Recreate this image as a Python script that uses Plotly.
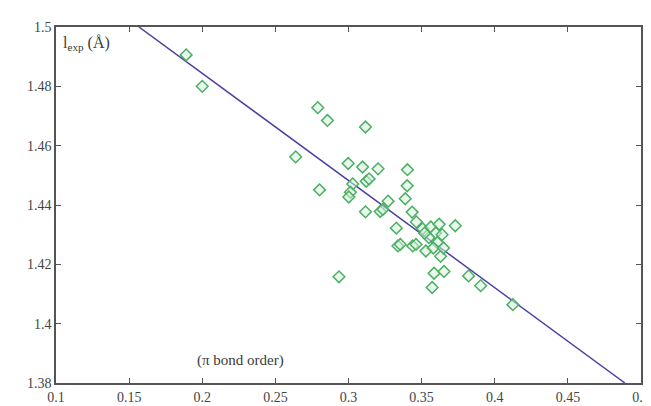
import plotly.graph_objects as go

# pi bond order (x) and experimental bond length l_exp in Angstrom (y)
bond_order = [0.189, 0.200, 0.279, 0.2856, 0.3116, 0.2639, 0.2998, 0.3096, 0.3202, 0.3403,
              0.2802, 0.3121, 0.3141, 0.3029, 0.3013, 0.3002, 0.3401, 0.3388, 0.3271, 0.3116,
              0.3217, 0.3235, 0.3435, 0.3464, 0.3327, 0.3338, 0.3354, 0.3439, 0.3462, 0.3529,
              0.3585, 0.3653, 0.3572, 0.2935, 0.3630, 0.3821, 0.3904, 0.4124, 0.3507, 0.3563,
              0.3596, 0.3608, 0.3730, 0.3620, 0.3640, 0.3550, 0.3580, 0.3520, 0.3650]
l_exp = [1.4906, 1.4800, 1.4728, 1.4685, 1.4663, 1.4562, 1.4540, 1.4528, 1.4522, 1.4519,
         1.4451, 1.4480, 1.4488, 1.4471, 1.4443, 1.4427, 1.4465, 1.4421, 1.4413, 1.4377,
         1.4378, 1.4385, 1.4376, 1.4343, 1.4322, 1.4262, 1.4267, 1.4262, 1.4267, 1.4245,
         1.4170, 1.4176, 1.4122, 1.4158, 1.4227, 1.4161, 1.4128, 1.4064, 1.4320, 1.4326,
         1.4306, 1.4273, 1.4330, 1.4335, 1.4300, 1.4290, 1.4255, 1.4305, 1.4255]

# regression line end points
fit_x = [0.1567, 0.489]
fit_y = [1.5, 1.38]

x_ticks = [0.1, 0.15, 0.2, 0.25, 0.3, 0.35, 0.4, 0.45, 0.5]
x_tick_text = ["0.1", "0.15", "0.2", "0.25", "0.3", "0.35", "0.4", "0.45", "0.5"]
y_ticks = [1.38, 1.4, 1.42, 1.44, 1.46, 1.48, 1.5]
y_tick_text = ["1.38", "1.4", "1.42", "1.44", "1.46", "1.48", "1.5"]

serif = "Liberation Serif, Times New Roman, serif"

fig = go.Figure()
fig.add_trace(go.Scatter(
    x=fit_x, y=fit_y, mode="lines",
    line=dict(color="rgb(75,65,160)", width=1.5),
    hoverinfo="skip", showlegend=False))
fig.add_trace(go.Scatter(
    x=bond_order, y=l_exp, mode="markers",
    marker=dict(symbol="diamond", size=9,
                color="rgba(215,240,220,0.55)",
                line=dict(color="rgb(75,175,100)", width=1.5)),
    showlegend=False))

axis_common = dict(
    showgrid=False, zeroline=False, showline=True, linecolor="#555555", linewidth=1.5,
    mirror="ticks", ticks="inside", ticklen=5, tickwidth=1, tickcolor="#555555",
    tickfont=dict(family=serif, size=14, color="#444444"),
)
fig.update_xaxes(range=[0.1, 0.5], tickvals=x_ticks, ticktext=x_tick_text, **axis_common)
fig.update_yaxes(range=[1.38, 1.5], tickvals=y_ticks, ticktext=y_tick_text, **axis_common)

fig.add_annotation(
    xref="paper", yref="paper", x=0.008, y=0.985, xanchor="left", yanchor="top",
    text="l<sub>exp</sub> (Å)", showarrow=False,
    font=dict(family=serif, size=16, color="#3a3a3a"))
fig.add_annotation(
    xref="x", yref="paper", x=0.226, y=0.035, xanchor="center", yanchor="bottom",
    text="(π bond order)", showarrow=False,
    font=dict(family=serif, size=15, color="#3a3a3a"))

fig.update_layout(
    width=651, height=406,
    margin=dict(l=48, r=9, t=19, b=22),
    paper_bgcolor="white", plot_bgcolor="white",
)
fig.write_html("out.html")
